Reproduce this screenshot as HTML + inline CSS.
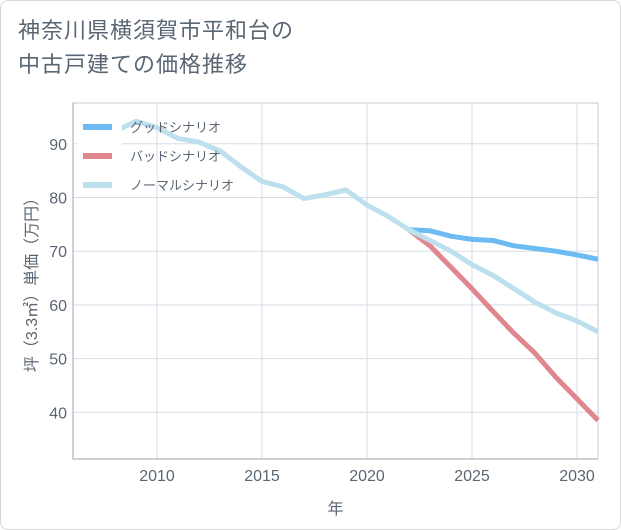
<!DOCTYPE html>
<html><head><meta charset="utf-8"><style>
body{margin:0;background:#fff;font-family:"Liberation Sans","Noto Sans CJK JP",sans-serif;}
#wrap{position:relative;width:619px;height:528px;border:1px solid #d8d8d8;border-radius:8px;background:#fff;overflow:hidden}
#title{position:absolute;left:17px;top:13px;font-size:22px;line-height:34px;color:#5a6673;letter-spacing:1px}
svg{position:absolute;left:0;top:0}
text{font-family:"Liberation Sans","Noto Sans CJK JP",sans-serif}
</style></head><body>
<div id="wrap">
<div id="title">神奈川県横須賀市平和台の<br>中古戸建ての価格推移</div>
<svg id="chart" width="621" height="530"></svg>
</div>
<script>
const normalYears=[2008,2009,2010,2011,2012,2013,2014,2015,2016,2017,2018,2019,2020,2021,2022,2023,2024,2025,2026,2027,2028,2029,2030,2031];
const normalValues=[92.3,94.2,93,91,90.3,88.7,85.7,83,82,79.8,80.5,81.4,78.6,76.5,74,72,70,67.5,65.5,63,60.5,58.5,57,55];
const goodYears=[2022,2023,2024,2025,2026,2027,2028,2029,2030,2031];
const goodValues=[74,73.8,72.8,72.2,72,71,70.5,70,69.3,68.5];
const badYears=[2022,2023,2024,2025,2026,2027,2028,2029,2030,2031];
const badValues=[74,71,67,63,58.8,54.7,51,46.5,42.5,38.5];
const xTicks=[2010,2015,2020,2025,2030];
const yTicks=[40,50,60,70,80,90];
const legendLabels=["グッドシナリオ","バッドシナリオ","ノーマルシナリオ"];

const L=72,R=597,T=102,B=458;
const TXT='#5a6673';
const x=v=>L+(v-2006)*(R-L)/25;
const y=v=>B-(v-31.3)*(B-T)/(97.6-31.3);
const svg=document.getElementById('chart');
const NS='http://www.w3.org/2000/svg';
function mk(tag,attrs){const e=document.createElementNS(NS,tag);for(const k in attrs)e.setAttribute(k,attrs[k]);svg.appendChild(e);return e;}

xTicks.forEach(t=>{
 const g=mk('line',{x1:x(t),x2:x(t),y1:T,y2:B,stroke:'#d5dee6','stroke-width':1});
 
 
 const lb=mk('text',{x:x(t),y:B+22,'text-anchor':'middle','font-size':16,fill:TXT});
 lb.textContent=t;
 
 
});
yTicks.forEach(t=>{
 const g=mk('line',{x1:L,x2:R,y1:y(t),y2:y(t),stroke:'#d5dee6','stroke-width':1});
 
 
 const lb=mk('text',{x:L-6,y:y(t)+6,'text-anchor':'end','font-size':16,fill:TXT});
 lb.textContent=t;
 
 
});
const frame=mk('path',{d:`M${L},${T}H${R}V${B}H${L}Z`,fill:'none',stroke:'#c4ccd4','stroke-width':1});


const axes=mk('path',{d:`M${L},${T}V${B}H${R}`,fill:'none',stroke:'#9aa4ae','stroke-width':1});



function series(xs,vs,color,name){
 const p=mk('polyline',{points:xs.map((t,i)=>x(t)+','+y(vs[i])).join(' '),fill:'none',stroke:color,'stroke-width':5,'stroke-linejoin':'round'});
 
 
}
series(badYears,badValues,'#e0868f','bad-scenario-line');
series(goodYears,goodValues,'#6cbbf2','good-scenario-line');
series(normalYears,normalValues,'#bde0ee','normal-scenario-line');

const lbg=mk('rect',{x:76,y:106,width:45,height:90,fill:'#fff'});


const colors=['#6cbbf2','#e0868f','#bde0ee'];
legendLabels.forEach((s,i)=>{
 const yy=126+i*29;
 const sw=mk('line',{x1:82,x2:111,y1:yy,y2:yy,stroke:colors[i],'stroke-width':6});
 
 
 const tx=mk('text',{x:129,y:yy+5,'font-size':13,fill:TXT});
 tx.textContent=s;
 
 
});
const xt=mk('text',{x:(L+R)/2,y:513,'text-anchor':'middle','font-size':16,fill:TXT});
xt.textContent='年';


const yt=mk('text',{x:0,y:0,'text-anchor':'middle','font-size':16,fill:TXT,transform:`translate(36,${(T+B)/2}) rotate(-90)`});
yt.textContent='坪（3.3㎡）単価（万円）';


</script>
</body></html>
